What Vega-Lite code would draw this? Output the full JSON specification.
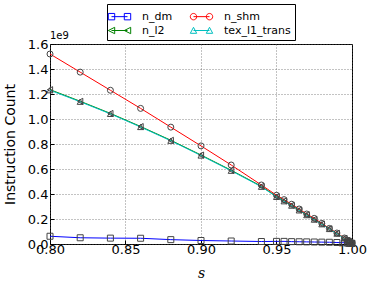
{
  "$schema": "https://vega.github.io/schema/vega-lite/v6.json",
  "autosize": "none",
  "width": 302,
  "height": 200,
  "padding": {"left": 50, "top": 44, "right": 22, "bottom": 43},
  "background": "white",
  "title": {"text": "1e9", "anchor": "start", "frame": "group", "fontSize": 10, "font": "DejaVu Sans", "fontWeight": "normal", "offset": -37, "color": "black"},
  "config": {
    "view": {"stroke": "black", "strokeWidth": 1},
    "axis": {
      "labelFont": "DejaVu Sans", "labelFontSize": 13, "labelColor": "black", "labelFlush": false, "labelOverlap": false,
      "titleFont": "DejaVu Sans", "titleFontSize": 14, "titleFontWeight": "normal", "titleColor": "black",
      "domain": false, "grid": true, "gridColor": "#555", "gridDash": [1, 2], "gridWidth": 0.7,
      "tickColor": "black", "tickSize": -4, "tickWidth": 1
    }
  },
  "data": {"values": [
    {"s": 0.80, "series": "n_dm", "v": 62000000},
    {"s": 0.82, "series": "n_dm", "v": 50000000},
    {"s": 0.84, "series": "n_dm", "v": 47000000},
    {"s": 0.86, "series": "n_dm", "v": 46000000},
    {"s": 0.88, "series": "n_dm", "v": 35000000},
    {"s": 0.90, "series": "n_dm", "v": 28000000},
    {"s": 0.92, "series": "n_dm", "v": 24000000},
    {"s": 0.94, "series": "n_dm", "v": 20000000},
    {"s": 0.95, "series": "n_dm", "v": 21000000},
    {"s": 0.955, "series": "n_dm", "v": 21000000},
    {"s": 0.96, "series": "n_dm", "v": 19000000},
    {"s": 0.965, "series": "n_dm", "v": 18000000},
    {"s": 0.97, "series": "n_dm", "v": 17000000},
    {"s": 0.975, "series": "n_dm", "v": 16000000},
    {"s": 0.98, "series": "n_dm", "v": 15000000},
    {"s": 0.985, "series": "n_dm", "v": 14000000},
    {"s": 0.99, "series": "n_dm", "v": 12000000},
    {"s": 0.995, "series": "n_dm", "v": 10000000},
    {"s": 0.997, "series": "n_dm", "v": 8000000},
    {"s": 0.998, "series": "n_dm", "v": 6000000},
    {"s": 0.999, "series": "n_dm", "v": 5000000},
    {"s": 1.0, "series": "n_dm", "v": 4000000},
    {"s": 0.80, "series": "n_l2", "v": 1235000000},
    {"s": 0.82, "series": "n_l2", "v": 1142000000},
    {"s": 0.84, "series": "n_l2", "v": 1045000000},
    {"s": 0.86, "series": "n_l2", "v": 940000000},
    {"s": 0.88, "series": "n_l2", "v": 830000000},
    {"s": 0.90, "series": "n_l2", "v": 712000000},
    {"s": 0.92, "series": "n_l2", "v": 590000000},
    {"s": 0.94, "series": "n_l2", "v": 462000000},
    {"s": 0.95, "series": "n_l2", "v": 380000000},
    {"s": 0.955, "series": "n_l2", "v": 345000000},
    {"s": 0.96, "series": "n_l2", "v": 310000000},
    {"s": 0.965, "series": "n_l2", "v": 272000000},
    {"s": 0.97, "series": "n_l2", "v": 234000000},
    {"s": 0.975, "series": "n_l2", "v": 198000000},
    {"s": 0.98, "series": "n_l2", "v": 160000000},
    {"s": 0.985, "series": "n_l2", "v": 122000000},
    {"s": 0.99, "series": "n_l2", "v": 85000000},
    {"s": 0.995, "series": "n_l2", "v": 46000000},
    {"s": 0.997, "series": "n_l2", "v": 29000000},
    {"s": 0.998, "series": "n_l2", "v": 21000000},
    {"s": 0.999, "series": "n_l2", "v": 13000000},
    {"s": 1.0, "series": "n_l2", "v": 7000000},
    {"s": 0.80, "series": "n_shm", "v": 1520000000},
    {"s": 0.82, "series": "n_shm", "v": 1375000000},
    {"s": 0.84, "series": "n_shm", "v": 1230000000},
    {"s": 0.86, "series": "n_shm", "v": 1085000000},
    {"s": 0.88, "series": "n_shm", "v": 935000000},
    {"s": 0.90, "series": "n_shm", "v": 785000000},
    {"s": 0.92, "series": "n_shm", "v": 632000000},
    {"s": 0.94, "series": "n_shm", "v": 472000000},
    {"s": 0.95, "series": "n_shm", "v": 390000000},
    {"s": 0.955, "series": "n_shm", "v": 355000000},
    {"s": 0.96, "series": "n_shm", "v": 318000000},
    {"s": 0.965, "series": "n_shm", "v": 280000000},
    {"s": 0.97, "series": "n_shm", "v": 240000000},
    {"s": 0.975, "series": "n_shm", "v": 205000000},
    {"s": 0.98, "series": "n_shm", "v": 165000000},
    {"s": 0.985, "series": "n_shm", "v": 125000000},
    {"s": 0.99, "series": "n_shm", "v": 88000000},
    {"s": 0.995, "series": "n_shm", "v": 48000000},
    {"s": 0.997, "series": "n_shm", "v": 30000000},
    {"s": 0.998, "series": "n_shm", "v": 22000000},
    {"s": 0.999, "series": "n_shm", "v": 14000000},
    {"s": 1.0, "series": "n_shm", "v": 8000000},
    {"s": 0.80, "series": "tex_l1_trans", "v": 1230000000},
    {"s": 0.82, "series": "tex_l1_trans", "v": 1138000000},
    {"s": 0.84, "series": "tex_l1_trans", "v": 1041000000},
    {"s": 0.86, "series": "tex_l1_trans", "v": 936000000},
    {"s": 0.88, "series": "tex_l1_trans", "v": 826000000},
    {"s": 0.90, "series": "tex_l1_trans", "v": 708000000},
    {"s": 0.92, "series": "tex_l1_trans", "v": 586000000},
    {"s": 0.94, "series": "tex_l1_trans", "v": 458000000},
    {"s": 0.95, "series": "tex_l1_trans", "v": 377000000},
    {"s": 0.955, "series": "tex_l1_trans", "v": 342000000},
    {"s": 0.96, "series": "tex_l1_trans", "v": 307000000},
    {"s": 0.965, "series": "tex_l1_trans", "v": 269000000},
    {"s": 0.97, "series": "tex_l1_trans", "v": 231000000},
    {"s": 0.975, "series": "tex_l1_trans", "v": 195000000},
    {"s": 0.98, "series": "tex_l1_trans", "v": 158000000},
    {"s": 0.985, "series": "tex_l1_trans", "v": 120000000},
    {"s": 0.99, "series": "tex_l1_trans", "v": 83000000},
    {"s": 0.995, "series": "tex_l1_trans", "v": 45000000},
    {"s": 0.997, "series": "tex_l1_trans", "v": 28000000},
    {"s": 0.998, "series": "tex_l1_trans", "v": 20000000},
    {"s": 0.999, "series": "tex_l1_trans", "v": 12000000},
    {"s": 1.0, "series": "tex_l1_trans", "v": 6000000}
  ]},
  "encoding": {
    "x": {"field": "s", "type": "quantitative", "scale": {"domain": [0.8, 1.0], "nice": false, "zero": false},
      "axis": {"values": [0.8, 0.85, 0.9, 0.95, 1.0], "format": ".2f", "title": "s", "titleFont": "DejaVu Serif", "titleFontStyle": "italic", "titleFontSize": 14, "titlePadding": 10, "labelPadding": 3}},
    "y": {"field": "v", "type": "quantitative", "scale": {"domain": [0, 1600000000], "nice": false},
      "axis": {"values": [0, 200000000, 400000000, 600000000, 800000000, 1000000000, 1200000000, 1400000000, 1600000000], "labelExpr": "format(datum.value / 1e9, '.1f')", "title": "Instruction Count", "titlePadding": 10, "labelPadding": 6}}
  },
  "layer": [
    {
      "mark": {"type": "line", "strokeWidth": 1, "clip": true},
      "encoding": {
        "color": {"field": "series", "type": "nominal",
          "scale": {"domain": ["n_dm", "n_l2", "n_shm", "tex_l1_trans"], "range": ["#0000ff", "#008000", "#ff0000", "#00bfbf"]},
          "legend": {
            "orient": "none", "legendX": 57, "legendY": -40, "columns": 2, "title": null, "gridAlign": "each",
            "strokeColor": "black", "fillColor": "white", "padding": 4, "cornerRadius": 0,
            "labelFont": "DejaVu Sans", "labelFontSize": 11, "labelColor": "black",
            "symbolSize": 256, "symbolStrokeWidth": 1, "symbolFillColor": "transparent",
            "columnPadding": 15, "rowPadding": 0, "labelOffset": 14,
            "encode": {"symbols": {"update": {"shape": {"signal": "datum.value === 'n_dm' ? 'M-1,0L1,0M-1.4,-0.4h0.8v0.8h-0.8zM0.6,-0.4h0.8v0.8h-0.8z' : datum.value === 'n_shm' ? 'M-1,0L1,0M-0.6,0A0.4,0.4,0,1,1,-1.4,0A0.4,0.4,0,1,1,-0.6,0M1.4,0A0.4,0.4,0,1,1,0.6,0A0.4,0.4,0,1,1,1.4,0' : datum.value === 'n_l2' ? 'M-1,0L1,0M-1.4,0L-0.6,-0.4L-0.6,0.4ZM0.6,0L1.4,-0.4L1.4,0.4Z' : 'M-1,0L1,0M-1,-0.4L-0.6,0.35L-1.4,0.35ZM1,-0.4L1.4,0.35L0.6,0.35Z'"}}}}
          }
        }
      }
    },
    {
      "transform": [{"filter": "datum.series === 'n_dm'"}],
      "mark": {"type": "point", "shape": "square", "filled": false, "stroke": "#444", "strokeWidth": 1, "size": 36, "opacity": 1}
    },
    {
      "transform": [{"filter": "datum.series === 'n_l2'"}],
      "mark": {"type": "point", "shape": "triangle-left", "filled": false, "stroke": "#444", "strokeWidth": 1, "size": 36, "opacity": 1}
    },
    {
      "transform": [{"filter": "datum.series === 'n_shm'"}],
      "mark": {"type": "point", "shape": "circle", "filled": false, "stroke": "#444", "strokeWidth": 1, "size": 36, "opacity": 1}
    },
    {
      "transform": [{"filter": "datum.series === 'tex_l1_trans'"}],
      "mark": {"type": "point", "shape": "triangle-up", "filled": false, "stroke": "#444", "strokeWidth": 1, "size": 36, "opacity": 1}
    }
  ]
}
